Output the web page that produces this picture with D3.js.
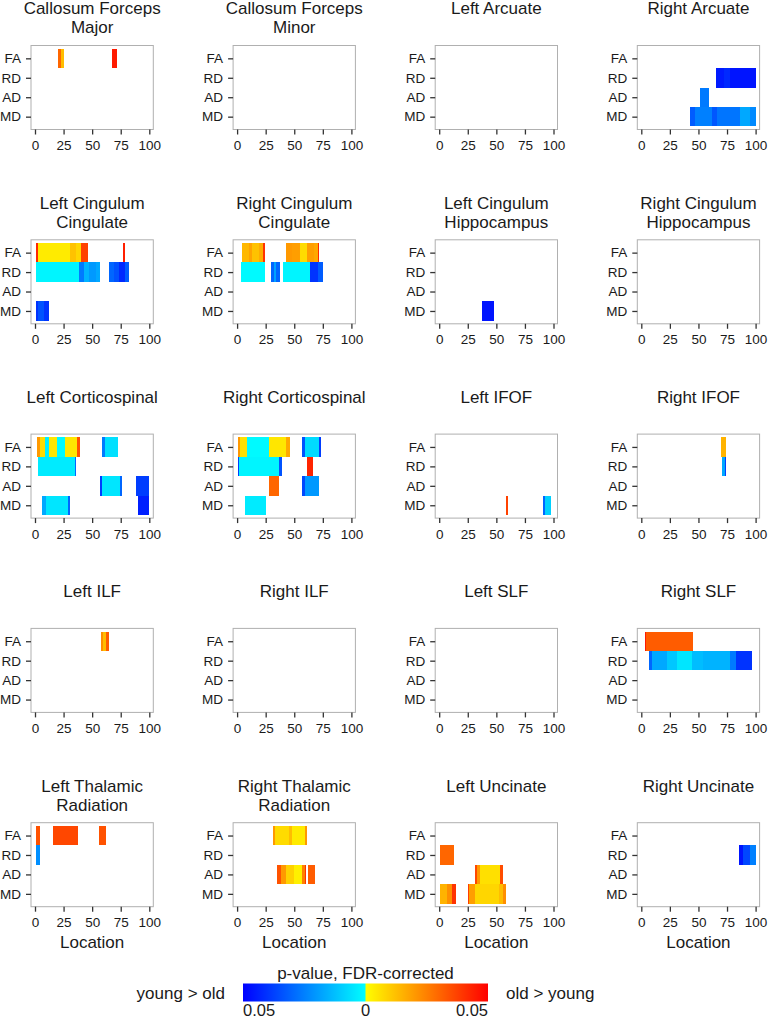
<!DOCTYPE html>
<html>
<head>
<meta charset="utf-8">
<script src="https://cdn.jsdelivr.net/npm/d3@7"></script>
<style>
  body { margin: 0; background: #fff; }
  svg text { font-family: "Liberation Sans", Arial, Helvetica, sans-serif; fill: #1a1a1a; }
</style>
</head>
<body>
<div id="chart"></div>
<script>
// tract names (panel titles), read row by row
var tracts = [
    "Callosum Forceps\nMajor", "Callosum Forceps\nMinor", "Left Arcuate", "Right Arcuate",
    "Left Cingulum\nCingulate", "Right Cingulum\nCingulate", "Left Cingulum\nHippocampus", "Right Cingulum\nHippocampus",
    "Left Corticospinal", "Right Corticospinal", "Left IFOF", "Right IFOF",
    "Left ILF", "Right ILF", "Left SLF", "Right SLF",
    "Left Thalamic\nRadiation", "Right Thalamic\nRadiation", "Left Uncinate", "Right Uncinate"
];
var measures = ["FA", "RD", "AD", "MD"];
var xTicks = [0, 25, 50, 75, 100];
var legendTicks = ["0.05", "0", "0.05"];

// significant runs: [tract index, measure, from, to, p]
// p < 0 : young > old, p > 0 : old > young
var runs = [
    [0, "FA", 20.5, 23, 0.03], [0, "FA", 23, 25.5, 0.013], [0, "FA", 67.5, 72, 0.045],

    [3, "RD", 65.5, 72, -0.045], [3, "RD", 72, 78, -0.042], [3, "RD", 78, 100.5, -0.046],
    [3, "AD", 51.5, 59.5, -0.026],
    [3, "MD", 43, 47, -0.032], [3, "MD", 47, 61.5, -0.025], [3, "MD", 61.5, 66, -0.033],
    [3, "MD", 66, 86, -0.027], [3, "MD", 86, 95, -0.017], [3, "MD", 95, 100.5, -0.023],

    [4, "FA", 0.5, 3, 0.042], [4, "FA", 3, 31, 0.004], [4, "FA", 31, 36, 0.012],
    [4, "FA", 36, 40, 0.008], [4, "FA", 40, 46, 0.037], [4, "FA", 77, 78.5, 0.044],
    [4, "RD", 0.5, 38.5, -0.002], [4, "RD", 38.5, 43, -0.026], [4, "RD", 43, 47, -0.015],
    [4, "RD", 47, 53, -0.02], [4, "RD", 53, 57, -0.017],
    [4, "RD", 64.5, 69, -0.03], [4, "RD", 69, 73.5, -0.034], [4, "RD", 73.5, 78.5, -0.042], [4, "RD", 78.5, 82, -0.032],
    [4, "MD", 0.5, 3, -0.04], [4, "MD", 3, 8, -0.034], [4, "MD", 8, 12.5, -0.04],

    [5, "FA", 4.5, 10, 0.014], [5, "FA", 10, 13, 0.018], [5, "FA", 13, 19, 0.012],
    [5, "FA", 19, 23, 0.016], [5, "FA", 23, 24.5, 0.04],
    [5, "FA", 43, 48, 0.02], [5, "FA", 48, 55, 0.019], [5, "FA", 55, 61, 0.007],
    [5, "FA", 61, 67, 0.019], [5, "FA", 67, 70.5, 0.017], [5, "FA", 70.5, 72, 0.042],
    [5, "RD", 3.5, 24.5, -0.001], [5, "RD", 29.5, 32, -0.03], [5, "RD", 32, 34, -0.018], [5, "RD", 34, 37.5, -0.03],
    [5, "RD", 40, 64, -0.002], [5, "RD", 64, 71, -0.04], [5, "RD", 71, 75.5, -0.032],

    [6, "MD", 37.5, 48, -0.046],

    [8, "FA", 1.5, 4, 0.02], [8, "FA", 4, 9, 0.007], [8, "FA", 9, 12.5, -0.003], [8, "FA", 12.5, 19, 0.005],
    [8, "FA", 19, 26, -0.001], [8, "FA", 26, 37, 0.005], [8, "FA", 37, 39, 0.034],
    [8, "FA", 59, 61, -0.026], [8, "FA", 61, 72.5, -0.006],
    [8, "RD", 3, 35, -0.004], [8, "RD", 35, 36, -0.03],
    [8, "AD", 57, 59, -0.038], [8, "AD", 59, 74.5, -0.005], [8, "AD", 74.5, 76, -0.03],
    [8, "AD", 88.5, 100, -0.038],
    [8, "MD", 6, 9.5, -0.017], [8, "MD", 9.5, 28.5, -0.005], [8, "MD", 28.5, 30.5, -0.03],
    [8, "MD", 90, 100, -0.044],

    [9, "FA", 1, 2.5, 0.02], [9, "FA", 2.5, 8.5, 0.006], [9, "FA", 8.5, 28, -0.001],
    [9, "FA", 28, 42.5, 0.005], [9, "FA", 42.5, 46.5, 0.017],
    [9, "FA", 57, 59, -0.034], [9, "FA", 59, 72, -0.007], [9, "FA", 72, 73.5, -0.038],
    [9, "RD", 0.5, 2, -0.038], [9, "RD", 2, 36.5, -0.002], [9, "RD", 36.5, 39, -0.034],
    [9, "RD", 61, 66, 0.043],
    [9, "AD", 28, 36.5, 0.03], [9, "AD", 57, 59, -0.036], [9, "AD", 59, 72, -0.02],
    [9, "MD", 7, 25, -0.004],

    [10, "MD", 58.5, 60.5, 0.037], [10, "MD", 91, 93, -0.03], [10, "MD", 93, 97.5, -0.009],

    [11, "FA", 70, 74.5, 0.015], [11, "RD", 71, 73.5, -0.017], [11, "RD", 73.5, 74.5, -0.038],

    [12, "FA", 58, 59.5, 0.022], [12, "FA", 59.5, 62, 0.013], [12, "FA", 62, 65, 0.032],

    [15, "FA", 3, 4.5, 0.045], [15, "FA", 4.5, 45.5, 0.032],
    [15, "RD", 6.5, 9.5, -0.03], [15, "RD", 9.5, 22.5, -0.017], [15, "RD", 22.5, 31, -0.011],
    [15, "RD", 31, 44, -0.005], [15, "RD", 44, 54, -0.013], [15, "RD", 54, 77.5, -0.015],
    [15, "RD", 77.5, 83, -0.026], [15, "RD", 83, 96.5, -0.04],

    [16, "FA", 0.5, 4.5, 0.034], [16, "FA", 16, 37.5, 0.036], [16, "FA", 56, 62.5, 0.034],
    [16, "RD", 0.5, 4.5, -0.022],

    [17, "FA", 31, 33, 0.02], [17, "FA", 33, 45, 0.007], [17, "FA", 45, 48, 0.013],
    [17, "FA", 48, 59.5, 0.004], [17, "FA", 59.5, 61, 0.02],
    [17, "AD", 35, 38, 0.034], [17, "AD", 38, 42.5, 0.02], [17, "AD", 42.5, 49.5, 0.009],
    [17, "AD", 49.5, 57, 0.003], [17, "AD", 57, 59, 0.025], [17, "AD", 59, 60, 0.04],
    [17, "AD", 62, 68.5, 0.032],

    [18, "RD", 0.5, 13, 0.03],
    [18, "AD", 31.5, 33.5, 0.036], [18, "AD", 33.5, 36, 0.02], [18, "AD", 36, 53.5, 0.006], [18, "AD", 53.5, 55.5, 0.035],
    [18, "MD", 0.5, 7, 0.015], [18, "MD", 7, 11.5, 0.022], [18, "MD", 11.5, 15, 0.04],
    [18, "MD", 25, 26.5, 0.038], [18, "MD", 26.5, 31.5, 0.019], [18, "MD", 31.5, 52, 0.008],
    [18, "MD", 52, 56, 0.013], [18, "MD", 56, 58.5, 0.022],

    [19, "RD", 85.5, 89, -0.046], [19, "RD", 89, 95, -0.036], [19, "RD", 95, 100.5, -0.025]
];

var W = 771, H = 1020;
var boxW = 122.3, boxH = 84;
var colLeft = function(c) { return 31 + c * 202.1; };
var rowTop = function(r) { return 45.5 + r * 194.3; };

var youngColor = d3.scaleLinear().domain([0, 0.05]).range(["#00ffff", "#0000ff"]);
var oldColor = d3.scaleLinear().domain([0, 0.05]).range(["#ffff00", "#ff0000"]);
function pColor(p) { return p < 0 ? youngColor(-p) : oldColor(p); }

var svg = d3.select("#chart").append("svg")
    .attr("width", W)
    .attr("height", H);

tracts.forEach(function(name, i) {
    var c = i % 4, r = Math.floor(i / 4);
    var x0 = colLeft(c), y0 = rowTop(r);

    var xScale = d3.scaleLinear().domain([-3.5, 103.5]).range([x0, x0 + boxW]);
    var yScale = d3.scaleLinear().domain([0.34, 4.66]).range([y0, y0 + boxH]);

    var g = svg.append("g");

    // title, one or two lines
    var lines = name.split("\n");
    g.selectAll("text.title")
        .data(lines)
        .enter()
        .append("text")
        .attr("class", "title")
        .attr("x", x0 + boxW / 2)
        .attr("y", function(d, k) { return y0 - 37 + k * 19; })
        .attr("dy", "0.35em")
        .attr("text-anchor", "middle")
        .attr("font-size", 17)
        .text(function(d) { return d; });

    g.selectAll("rect.run")
        .data(runs.filter(function(d) { return d[0] === i; }))
        .enter()
        .append("rect")
        .attr("class", "run")
        .attr("x", function(d) { return xScale(d[2]); })
        .attr("width", function(d) { return xScale(d[3]) - xScale(d[2]); })
        .attr("y", function(d) { return yScale(measures.indexOf(d[1]) + 0.5); })
        .attr("height", yScale(1.5) - yScale(0.5))
        .attr("fill", function(d) { return pColor(d[4]); })
        .attr("shape-rendering", "crispEdges");

    g.append("rect")
        .attr("x", x0)
        .attr("y", y0)
        .attr("width", boxW)
        .attr("height", boxH)
        .attr("fill", "none")
        .attr("stroke", "#b0b0b0")
        .attr("stroke-width", 1);

    var yAxis = d3.axisLeft(yScale)
        .tickValues([1, 2, 3, 4])
        .tickFormat(function(d) { return measures[d - 1]; })
        .tickSize(5)
        .tickPadding(5);
    var ya = g.append("g").attr("transform", "translate(" + x0 + ",0)").call(yAxis);

    var xAxis = d3.axisBottom(xScale)
        .tickValues(xTicks)
        .tickSize(5)
        .tickPadding(6);
    var xa = g.append("g").attr("transform", "translate(0," + (y0 + boxH) + ")").call(xAxis);

    [ya, xa].forEach(function(a) {
        a.select(".domain").remove();
        a.selectAll("line").attr("stroke", "#333").attr("stroke-width", 1.3);
        a.selectAll("text")
            .attr("font-size", 13.5)
            .attr("font-family", "Liberation Sans, Arial, sans-serif")
            .attr("fill", "#1a1a1a");
    });

    if (r === 4) {
        g.append("text")
            .attr("x", xScale(50))
            .attr("y", 942)
            .attr("dy", "0.35em")
            .attr("text-anchor", "middle")
            .attr("font-size", 17)
            .text("Location");
    }
});

// colour bar legend
var legX = d3.scaleLinear().domain([-0.05, 0, 0.05]).range([243, 365.5, 488]);
var defs = svg.append("defs");
var grad = defs.append("linearGradient").attr("id", "pgrad");
var stops = [-0.05, -0.025, -0.0001, 0.0001, 0.025, 0.05];
grad.selectAll("stop")
    .data(stops)
    .enter()
    .append("stop")
    .attr("offset", function(d) { return ((legX(d) - 243) / (488 - 243) * 100) + "%"; })
    .attr("stop-color", function(d) { return d < 0 ? youngColor(-d) : oldColor(d); });

svg.append("rect")
    .attr("x", legX(-0.05))
    .attr("y", 983.5)
    .attr("width", legX(0.05) - legX(-0.05))
    .attr("height", 18)
    .attr("fill", "url(#pgrad)");

svg.append("text")
    .attr("x", legX(0))
    .attr("y", 973)
    .attr("dy", "0.35em")
    .attr("text-anchor", "middle")
    .attr("font-size", 17)
    .text("p-value, FDR-corrected");

svg.append("text")
    .attr("x", 225)
    .attr("y", 993)
    .attr("dy", "0.35em")
    .attr("text-anchor", "end")
    .attr("font-size", 17)
    .text("young > old");

svg.append("text")
    .attr("x", 506)
    .attr("y", 993)
    .attr("dy", "0.35em")
    .attr("text-anchor", "start")
    .attr("font-size", 17)
    .text("old > young");

var legPos = [-0.05, 0, 0.05];
var legAnchor = ["start", "middle", "end"];
svg.selectAll("text.legtick")
    .data(legendTicks)
    .enter()
    .append("text")
    .attr("class", "legtick")
    .attr("x", function(d, k) { return legX(legPos[k]); })
    .attr("y", 1010)
    .attr("dy", "0.35em")
    .attr("text-anchor", function(d, k) { return legAnchor[k]; })
    .attr("font-size", 16.5)
    .text(function(d) { return d; });
</script>
</body>
</html>
